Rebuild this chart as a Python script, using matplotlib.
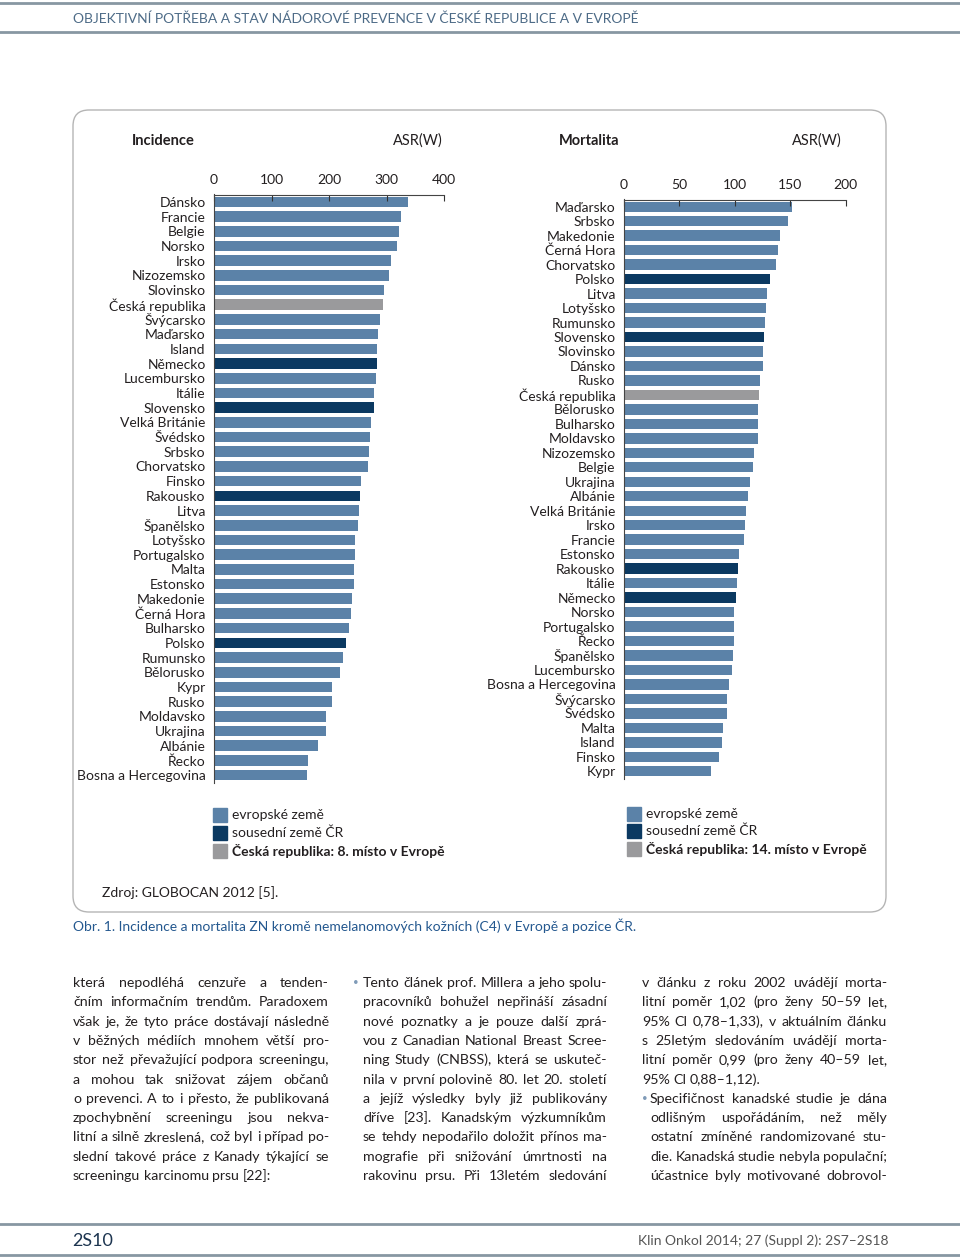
import matplotlib.pyplot as plt
import matplotlib.patches as patches
from matplotlib.lines import Line2D

FONT = ['Lato', 'DejaVu Sans']
plt.rcParams['font.family'] = FONT

W, H = 960, 1258

# --- data ---
inc_countries = ['Dánsko', 'Francie', 'Belgie', 'Norsko', 'Irsko', 'Nizozemsko', 'Slovinsko',
                 'Česká republika', 'Švýcarsko', 'Maďarsko', 'Island', 'Německo', 'Lucembursko',
                 'Itálie', 'Slovensko', 'Velká Británie', 'Švédsko', 'Srbsko', 'Chorvatsko',
                 'Finsko', 'Rakousko', 'Litva', 'Španělsko', 'Lotyšsko', 'Portugalsko', 'Malta',
                 'Estonsko', 'Makedonie', 'Černá Hora', 'Bulharsko', 'Polsko', 'Rumunsko',
                 'Bělorusko', 'Kypr', 'Rusko', 'Moldavsko', 'Ukrajina', 'Albánie', 'Řecko',
                 'Bosna a Hercegovina']
inc_values = [338, 325, 321, 319, 308, 304, 296, 294, 288, 286, 283, 283, 281, 279, 278, 273,
              271, 269, 267, 256, 254, 252, 250, 246, 246, 244, 244, 240, 238, 235, 230, 225,
              219, 205, 205, 194, 194, 180, 163, 161]

mort_countries = ['Maďarsko', 'Srbsko', 'Makedonie', 'Černá Hora', 'Chorvatsko', 'Polsko', 'Litva',
                  'Lotyšsko', 'Rumunsko', 'Slovensko', 'Slovinsko', 'Dánsko', 'Rusko',
                  'Česká republika', 'Bělorusko', 'Bulharsko', 'Moldavsko', 'Nizozemsko', 'Belgie',
                  'Ukrajina', 'Albánie', 'Velká Británie', 'Irsko', 'Francie', 'Estonsko',
                  'Rakousko', 'Itálie', 'Německo', 'Norsko', 'Portugalsko', 'Řecko', 'Španělsko',
                  'Lucembursko', 'Bosna a Hercegovina', 'Švýcarsko', 'Švédsko', 'Malta', 'Island',
                  'Finsko', 'Kypr']
mort_values = [152, 148, 141, 139, 137, 132, 129, 128, 127, 126, 125, 125, 123, 122, 121, 121,
               121, 117, 116, 114, 112, 110, 109, 108, 104, 103, 102, 101, 99, 99, 99, 98, 97,
               95, 93, 93, 89, 88, 86, 78.5]

neighbours = ['Německo', 'Slovensko', 'Rakousko', 'Polsko']
home = 'Česká republika'

legend_labels = ['evropské země', 'sousední země ČR']
inc_place = 'Česká republika: 8. místo v Evropě'
mort_place = 'Česká republika: 14. místo v Evropě'

C_EU = '#5b82a8'
C_NB = '#0b3961'
C_CZ = '#9a9a9c'
C_TXT = '#231f20'
C_RULE = '#8797a2'


def fx(x):
    return x / W


def fy(y):
    return 1 - y / H


def bar_colors(countries):
    out = []
    for c in countries:
        if c == home:
            out.append(C_CZ)
        elif c in neighbours:
            out.append(C_NB)
        else:
            out.append(C_EU)
    return out


def bar_panel(fig, box, countries, values, xmax, step):
    x0, x1, y0, y1 = box
    ax = fig.add_axes([fx(x0), fy(y1), fx(x1) - fx(x0), fy(y0) - fy(y1)])
    ax.barh(range(len(countries)), values, height=0.72, color=bar_colors(countries))
    ax.set_ylim(len(countries) - 0.5, -0.5)
    ax.set_xlim(0, xmax)
    ax.set_xticks(range(0, xmax + 1, step))
    ax.set_yticks(range(len(countries)))
    ax.set_yticklabels(countries, fontsize=10, color=C_TXT)
    ax.xaxis.tick_top()
    ax.tick_params(axis='x', direction='in', length=4, width=0.8, pad=6,
                   labelsize=10, colors='#333333', labelcolor=C_TXT)
    ax.tick_params(axis='y', length=0, pad=6)
    for s in ['right', 'bottom']:
        ax.spines[s].set_visible(False)
    for s in ['top', 'left']:
        ax.spines[s].set_color('#444444')
        ax.spines[s].set_linewidth(0.8)
    ax.set_facecolor('none')
    return ax


def legend_block(fig, x, ys, place):
    labels = legend_labels + [place]
    cols = [C_EU, C_NB, C_CZ]
    for lab, col, yc in zip(labels, cols, ys):
        fig.patches.append(patches.Rectangle((fx(x), fy(yc + 7)), fx(14), 14 / H,
                                             transform=fig.transFigure, color=col))
        fig.text(fx(x + 19), fy(yc), lab, fontsize=10, va='center', color=C_TXT,
                 fontweight='bold' if lab == place else 'normal')


def justify(fig, renderer, line, x0, x1, y, last=False, size=10.2):
    words = line.split(' ')
    arts = [fig.text(fx(x0), fy(y), w, fontsize=size, va='baseline', color=C_TXT) for w in words]
    widths = [a.get_window_extent(renderer).width for a in arts]
    if last or len(words) == 1:
        gap = 3.4
    else:
        gap = (x1 - x0 - sum(widths)) / (len(words) - 1)
    x = x0
    for a, w in zip(arts, widths):
        a.set_x(fx(x))
        x += w + gap


fig = plt.figure(figsize=(9.6, 12.58), dpi=100)
renderer = fig.canvas.get_renderer()

# page header and footer rules
for y in [3, 32, 1224, 1255]:
    fig.add_artist(Line2D([0, 1], [fy(y), fy(y)], color=C_RULE, lw=2))
fig.text(fx(73), fy(19), 'OBJEKTIVNÍ POTŘEBA A STAV NÁDOROVÉ PREVENCE V ČESKÉ REPUBLICE A V EVROPĚ',
         fontsize=10, color='#4d6b87', va='center')
fig.text(fx(72), fy(1241), '2S10', fontsize=13, color='#1d3550', va='center')
fig.text(fx(888), fy(1241), 'Klin Onkol 2014; 27 (Suppl 2): 2S7–2S18', fontsize=10,
         color='#555555', va='center', ha='right')

# rounded frame around the figure
frame = patches.FancyBboxPatch((0.73, (H - 912) / 100), 8.13, 8.02,
                               boxstyle='round,pad=0,rounding_size=0.16',
                               transform=fig.dpi_scale_trans, fc='none', ec='#b5b5b5', lw=1)
fig.patches.append(frame)

fig.text(fx(132), fy(141), 'Incidence', fontsize=10.5, fontweight='bold', va='center', color=C_TXT)
fig.text(fx(393), fy(141), 'ASR(W)', fontsize=10.5, va='center', color=C_TXT)
fig.text(fx(559), fy(141), 'Mortalita', fontsize=10.5, fontweight='bold', va='center', color=C_TXT)
fig.text(fx(792), fy(141), 'ASR(W)', fontsize=10.5, va='center', color=C_TXT)

bar_panel(fig, (214, 444, 194.5, 782.5), inc_countries, inc_values, 400, 100)
bar_panel(fig, (624, 845.7, 199.5, 778.5), mort_countries, mort_values, 200, 50)

legend_block(fig, 213, [815, 833, 851], inc_place)
legend_block(fig, 627, [814, 831, 849], mort_place)

fig.text(fx(102), fy(893), 'Zdroj: GLOBOCAN 2012 [5].', fontsize=10, va='center', color=C_TXT)
fig.text(fx(73), fy(926), 'Obr. 1. Incidence a mortalita ZN kromě nemelanomových kožních (C4) v Evropě a pozice ČR.',
         fontsize=10, va='center', color='#24588f')

# body text, three justified columns
col1 = ['která nepodléhá cenzuře a tenden-',
        'čním informačním trendům. Paradoxem',
        'však je, že tyto práce dostávají následně',
        'v běžných médiích mnohem větší pro-',
        'stor než převažující podpora screeningu,',
        'a mohou tak snižovat zájem občanů',
        'o prevenci. A to i přesto, že publikovaná',
        'zpochybnění screeningu jsou nekva-',
        'litní a silně zkreslená, což byl i případ po-',
        'slední takové práce z Kanady týkající se',
        'screeningu karcinomu prsu [22]:']
col2 = ['Tento článek prof. Millera a jeho spolu-',
        'pracovníků bohužel nepřináší zásadní',
        'nové poznatky a je pouze další zprá-',
        'vou z Canadian National Breast Scree-',
        'ning Study (CNBSS), která se uskuteč-',
        'nila v první polovině 80. let 20. století',
        'a jejíž výsledky byly již publikovány',
        'dříve [23]. Kanadským výzkumníkům',
        'se tehdy nepodařilo doložit přínos ma-',
        'mografie při snižování úmrtnosti na',
        'rakovinu prsu. Při 13letém sledování']
col3 = ['v článku z roku 2002 uvádějí morta-',
        'litní poměr 1,02 (pro ženy 50–59 let,',
        '95% CI 0,78–1,33), v aktuálním článku',
        's 25letým sledováním uvádějí morta-',
        'litní poměr 0,99 (pro ženy 40–59 let,',
        '95% CI 0,88–1,12).',
        'Specifičnost kanadské studie je dána',
        'odlišným uspořádáním, než měly',
        'ostatní zmíněné randomizované stu-',
        'die. Kanadská studie nebyla populační;',
        'účastnice byly motivované dobrovol-']

pitch = 19.3
base0 = 987
for i, line in enumerate(col1):
    justify(fig, renderer, line, 73, 329, base0 + i * pitch, last=(i == len(col1) - 1))
for i, line in enumerate(col2):
    justify(fig, renderer, line, 363, 607, base0 + i * pitch)
for i, line in enumerate(col3):
    x0 = 650 if i >= 6 else 642
    justify(fig, renderer, line, x0, 887, base0 + i * pitch, last=(i == 5))

for bx, by in [(356, 983), (645, 1098)]:
    fig.text(fx(bx), fy(by), '•', fontsize=7, color='#7f9bb8', va='center', ha='center')

fig.savefig('out.png', dpi=100)
